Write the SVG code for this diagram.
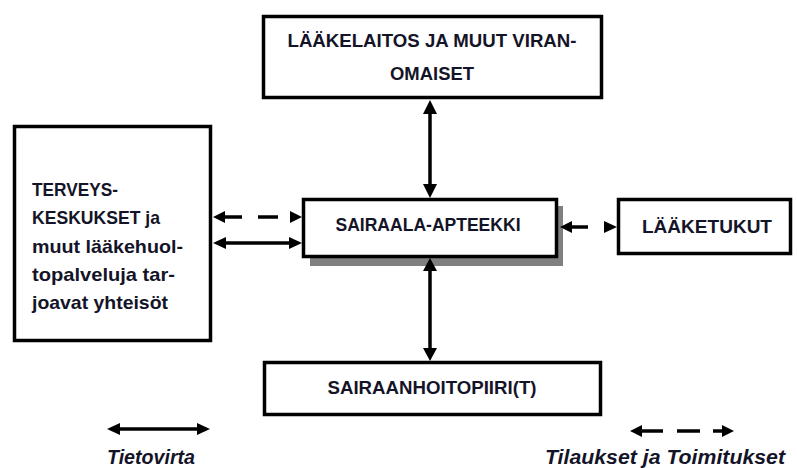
<svg xmlns="http://www.w3.org/2000/svg" width="797" height="468" viewBox="0 0 797 468">
<style>
.box{fill:#fff;stroke:#000;stroke-width:3.5}
.t{font-family:"Liberation Sans",Arial,sans-serif;font-weight:bold;font-size:19px;fill:#141428}
.tl{font-family:"Liberation Sans",Arial,sans-serif;font-weight:bold;font-size:18.5px;fill:#141428}
.lg{font-family:"Liberation Sans",Arial,sans-serif;font-weight:bold;font-style:italic;font-size:20px;fill:#141428}
.sh{stroke:#000;stroke-width:3.5;fill:none}
.hd{fill:#000}
</style>
<rect width="797" height="468" fill="#fff"/>
<g id="laakelaitos">
<rect class="box" x="263.5" y="16.5" width="338" height="81"/>
<text class="t" x="432" y="47" text-anchor="middle" textLength="289" lengthAdjust="spacingAndGlyphs">LÄÄKELAITOS JA MUUT VIRAN-</text>
<text class="t" x="432" y="80" text-anchor="middle" textLength="84" lengthAdjust="spacingAndGlyphs">OMAISET</text>
</g>
<g id="terveyskeskukset">
<rect class="box" x="14.5" y="126.5" width="196" height="214"/>
<text class="tl" x="32" y="196" textLength="86" lengthAdjust="spacingAndGlyphs">TERVEYS-</text>
<text class="tl" x="32" y="224" textLength="128" lengthAdjust="spacingAndGlyphs">KESKUKSET ja</text>
<text class="tl" x="32" y="253" textLength="151" lengthAdjust="spacingAndGlyphs">muut lääkehuol-</text>
<text class="tl" x="32" y="281" textLength="143" lengthAdjust="spacingAndGlyphs">topalveluja tar-</text>
<text class="tl" x="32" y="309" textLength="136" lengthAdjust="spacingAndGlyphs">joavat yhteisöt</text>
</g>
<g id="sairaala-apteekki">
<rect x="310" y="206" width="253" height="60" fill="#808080"/>
<rect class="box" x="303.5" y="199.5" width="253" height="57"/>
<text class="t" x="428" y="231" text-anchor="middle" textLength="185" lengthAdjust="spacingAndGlyphs">SAIRAALA-APTEEKKI</text>
</g>
<g id="laaketukut">
<rect class="box" x="618.5" y="199.5" width="172" height="54"/>
<text class="t" x="707" y="233" text-anchor="middle" textLength="130" lengthAdjust="spacingAndGlyphs">LÄÄKETUKUT</text>
</g>
<g id="sairaanhoitopiiri">
<rect class="box" x="264.5" y="362.5" width="336" height="52"/>
<text class="t" x="432" y="394" text-anchor="middle" textLength="209" lengthAdjust="spacingAndGlyphs">SAIRAANHOITOPIIRI(T)</text>
</g>
<g id="connectors">
<line class="sh" x1="430" y1="112" x2="430" y2="186"/>
<polygon class="hd" points="430,100 423,114 437,114"/>
<polygon class="hd" points="430,198 423,184 437,184"/>
<line class="sh" x1="430" y1="269" x2="430" y2="350"/>
<polygon class="hd" points="430,258 423,271 437,271"/>
<polygon class="hd" points="430,361 423,348 437,348"/>
<polygon class="hd" points="213,217 225,211 225,223"/>
<line class="sh" x1="224" y1="217" x2="242" y2="217"/>
<line class="sh" x1="258" y1="217" x2="278" y2="217"/>
<polygon class="hd" points="302,217 290,211 290,223"/>
<line class="sh" x1="224" y1="243" x2="291" y2="243"/>
<polygon class="hd" points="213,243 226,237 226,249"/>
<polygon class="hd" points="302,243 289,237 289,249"/>
<polygon class="hd" points="560,227 572,221 572,233"/>
<line class="sh" x1="571" y1="227" x2="588" y2="227"/>
<polygon class="hd" points="617,227 604,221 604,233"/>
<line class="sh" x1="117" y1="429" x2="200" y2="429"/>
<polygon class="hd" points="107,429 120,423 120,435"/>
<polygon class="hd" points="210,429 197,423 197,435"/>
<polygon class="hd" points="630,431 642,425 642,437"/>
<line class="sh" x1="641" y1="431" x2="663" y2="431"/>
<line class="sh" x1="677" y1="431" x2="700" y2="431"/>
<line class="sh" x1="713" y1="431" x2="723" y2="431"/>
<polygon class="hd" points="734,431 722,425 722,437"/>
</g>
<g id="legend">
<text class="lg" x="107" y="464" textLength="88" lengthAdjust="spacingAndGlyphs">Tietovirta</text>
<text class="lg" x="545" y="464" textLength="240" lengthAdjust="spacingAndGlyphs">Tilaukset ja Toimitukset</text>
</g>
</svg>
